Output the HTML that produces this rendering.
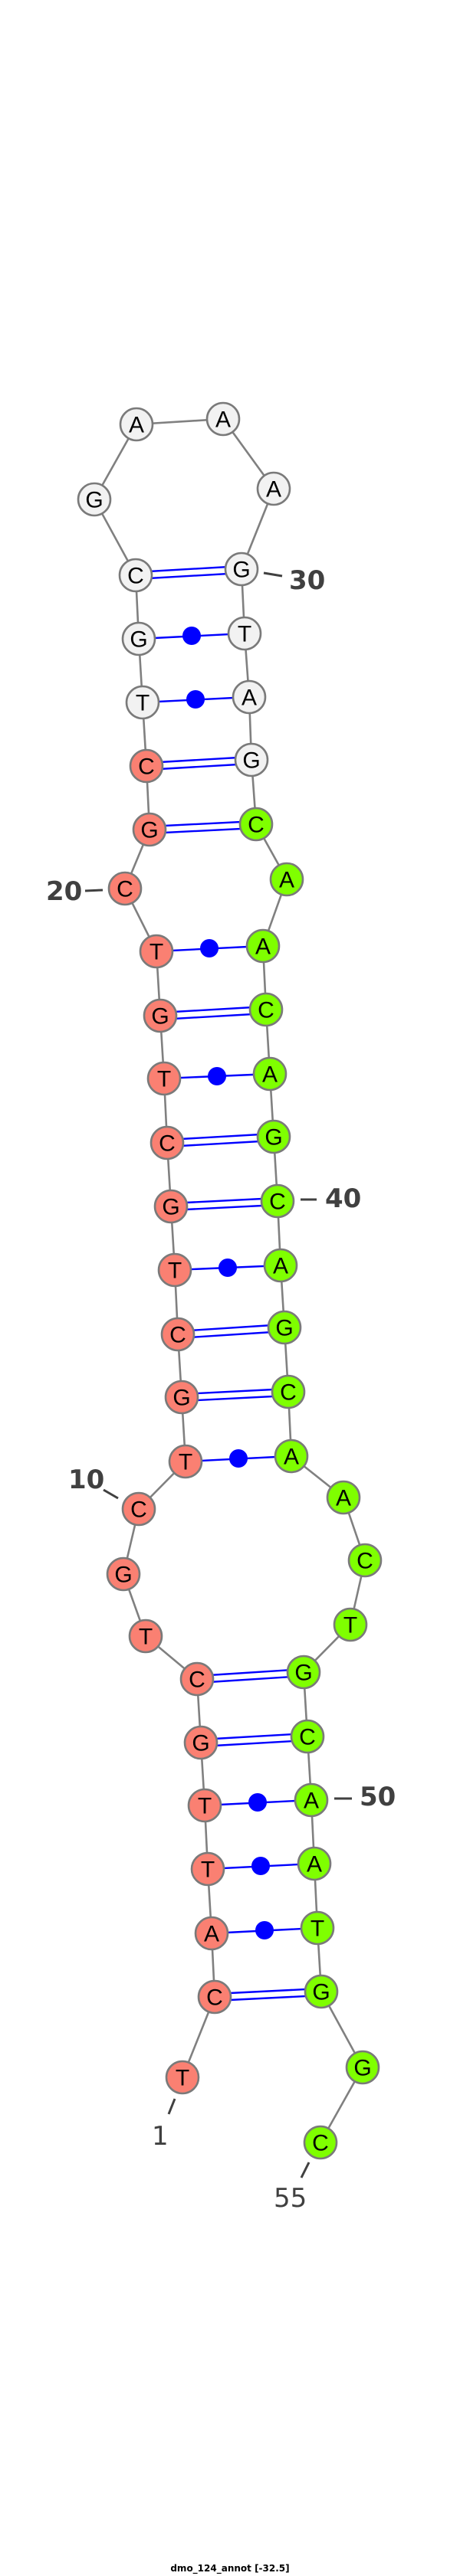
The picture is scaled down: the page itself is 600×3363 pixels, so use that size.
<!DOCTYPE html>
<html><head><meta charset="utf-8"><style>
html,body{margin:0;padding:0;background:#fff;width:600px;height:3363px;overflow:hidden}
svg{display:block}
.n{stroke:#7a7a7a;stroke-width:2.6}
.r{fill:#fa8072}.w{fill:#f2f2f2}.g{fill:#7fff00}
.t{font-family:"Liberation Sans",sans-serif;font-size:30px;text-anchor:middle;dominant-baseline:central;fill:#000}
.bb{stroke:#808080;stroke-width:2.6;fill:none}
.bp{stroke:#0000ff;stroke-width:2.4;fill:none}
.lb{font-family:"DejaVu Sans","Liberation Sans",sans-serif;font-size:34px;font-weight:bold;fill:#404040;dominant-baseline:central}
.ln{font-family:"DejaVu Sans","Liberation Sans",sans-serif;font-size:34px;fill:#404040;dominant-baseline:central}
.tk{stroke:#404040;stroke-width:3}
</style></head><body>
<svg width="600" height="3363" viewBox="0 0 600 3363" xmlns="http://www.w3.org/2000/svg">
<polyline class="bb" points="238,2712 280,2607 276,2524 271,2440 267,2357 262,2275 257,2192 190,2136 161,2055 181,1970 242,1908 237,1824 232,1742 228,1658 223,1575 218,1492 214,1408 209,1326 204,1242 163,1160 195,1083 191,1000 186,917 181,834 177,751 123,652 178,554 291,547 357,638 315,743 319,827 325,910 328,992 334,1076 374,1148 343,1235 347,1318 352,1402 357,1484 362,1568 366,1652 371,1733 376,1817 380,1901 448,1955 476,2037 457,2121 396,2183 401,2267 406,2350 410,2433 414,2517 419,2600 473,2699 418,2797"/>
<g class="bp">
<line x1="280" y1="2603" x2="419" y2="2596"/><line x1="280" y1="2612" x2="419" y2="2605"/>
<line x1="262" y1="2271" x2="401" y2="2263"/><line x1="262" y1="2280" x2="401" y2="2272"/>
<line x1="257" y1="2188" x2="396" y2="2179"/><line x1="257" y1="2197" x2="396" y2="2188"/>
<line x1="237" y1="1820" x2="376" y2="1813"/><line x1="237" y1="1829" x2="376" y2="1822"/>
<line x1="232" y1="1738" x2="371" y2="1729"/><line x1="232" y1="1747" x2="371" y2="1738"/>
<line x1="223" y1="1571" x2="362" y2="1564"/><line x1="223" y1="1580" x2="362" y2="1573"/>
<line x1="218" y1="1488" x2="357" y2="1480"/><line x1="218" y1="1497" x2="357" y2="1489"/>
<line x1="209" y1="1322" x2="347" y2="1314"/><line x1="209" y1="1331" x2="347" y2="1323"/>
<line x1="195" y1="1079" x2="334" y2="1072"/><line x1="195" y1="1088" x2="334" y2="1081"/>
<line x1="191" y1="996" x2="328" y2="988"/><line x1="191" y1="1005" x2="328" y2="997"/>
<line x1="177" y1="747" x2="315" y2="739"/><line x1="177" y1="756" x2="315" y2="748"/>
<line x1="276" y1="2524" x2="414" y2="2517"/>
<line x1="271" y1="2440" x2="410" y2="2433"/>
<line x1="267" y1="2357" x2="406" y2="2350"/>
<line x1="242" y1="1908" x2="380" y2="1901"/>
<line x1="228" y1="1658" x2="366" y2="1652"/>
<line x1="214" y1="1408" x2="352" y2="1402"/>
<line x1="204" y1="1242" x2="343" y2="1235"/>
<line x1="186" y1="917" x2="325" y2="910"/>
<line x1="181" y1="834" x2="319" y2="827"/>
</g>
<g fill="#0000ff">
<circle cx="345" cy="2520" r="12"/><circle cx="340" cy="2436" r="12"/><circle cx="336" cy="2353" r="12"/>
<circle cx="311" cy="1904" r="12"/><circle cx="297" cy="1655" r="12"/><circle cx="283" cy="1405" r="12"/>
<circle cx="273" cy="1238" r="12"/><circle cx="255" cy="913" r="12"/><circle cx="250" cy="830" r="12"/>
</g>
<g class="n">
<circle class="r" cx="238" cy="2712" r="21"/><circle class="r" cx="280" cy="2607" r="21"/><circle class="r" cx="276" cy="2524" r="21"/>
<circle class="r" cx="271" cy="2440" r="21"/><circle class="r" cx="267" cy="2357" r="21"/><circle class="r" cx="262" cy="2275" r="21"/>
<circle class="r" cx="257" cy="2192" r="21"/><circle class="r" cx="190" cy="2136" r="21"/><circle class="r" cx="161" cy="2055" r="21"/>
<circle class="r" cx="181" cy="1970" r="21"/><circle class="r" cx="242" cy="1908" r="21"/><circle class="r" cx="237" cy="1824" r="21"/>
<circle class="r" cx="232" cy="1742" r="21"/><circle class="r" cx="228" cy="1658" r="21"/><circle class="r" cx="223" cy="1575" r="21"/>
<circle class="r" cx="218" cy="1492" r="21"/><circle class="r" cx="214" cy="1408" r="21"/><circle class="r" cx="209" cy="1326" r="21"/>
<circle class="r" cx="204" cy="1242" r="21"/><circle class="r" cx="163" cy="1160" r="21"/><circle class="r" cx="195" cy="1083" r="21"/>
<circle class="r" cx="191" cy="1000" r="21"/>
<circle class="w" cx="186" cy="917" r="21"/><circle class="w" cx="181" cy="834" r="21"/><circle class="w" cx="177" cy="751" r="21"/>
<circle class="w" cx="123" cy="652" r="21"/><circle class="w" cx="178" cy="554" r="21"/><circle class="w" cx="291" cy="547" r="21"/>
<circle class="w" cx="357" cy="638" r="21"/><circle class="w" cx="315" cy="743" r="21"/><circle class="w" cx="319" cy="827" r="21"/>
<circle class="w" cx="325" cy="910" r="21"/><circle class="w" cx="328" cy="992" r="21"/>
<circle class="g" cx="334" cy="1076" r="21"/><circle class="g" cx="374" cy="1148" r="21"/><circle class="g" cx="343" cy="1235" r="21"/>
<circle class="g" cx="347" cy="1318" r="21"/><circle class="g" cx="352" cy="1402" r="21"/><circle class="g" cx="357" cy="1484" r="21"/>
<circle class="g" cx="362" cy="1568" r="21"/><circle class="g" cx="366" cy="1652" r="21"/><circle class="g" cx="371" cy="1733" r="21"/>
<circle class="g" cx="376" cy="1817" r="21"/><circle class="g" cx="380" cy="1901" r="21"/><circle class="g" cx="448" cy="1955" r="21"/>
<circle class="g" cx="476" cy="2037" r="21"/><circle class="g" cx="457" cy="2121" r="21"/><circle class="g" cx="396" cy="2183" r="21"/>
<circle class="g" cx="401" cy="2267" r="21"/><circle class="g" cx="406" cy="2350" r="21"/><circle class="g" cx="410" cy="2433" r="21"/>
<circle class="g" cx="414" cy="2517" r="21"/><circle class="g" cx="419" cy="2600" r="21"/><circle class="g" cx="473" cy="2699" r="21"/>
<circle class="g" cx="418" cy="2797" r="21"/>
</g>
<g class="t">
<text x="238" y="2713">T</text><text x="280" y="2608">C</text><text x="276" y="2525">A</text>
<text x="271" y="2441">T</text><text x="267" y="2358">T</text><text x="262" y="2276">G</text>
<text x="257" y="2193">C</text><text x="190" y="2137">T</text><text x="161" y="2056">G</text>
<text x="181" y="1971">C</text><text x="242" y="1909">T</text><text x="237" y="1825">G</text>
<text x="232" y="1743">C</text><text x="228" y="1659">T</text><text x="223" y="1576">G</text>
<text x="218" y="1493">C</text><text x="214" y="1409">T</text><text x="209" y="1327">G</text>
<text x="204" y="1243">T</text><text x="163" y="1161">C</text><text x="195" y="1084">G</text>
<text x="191" y="1001">C</text>
<text x="186" y="918">T</text><text x="181" y="835">G</text><text x="177" y="752">C</text>
<text x="123" y="653">G</text><text x="178" y="555">A</text><text x="291" y="548">A</text>
<text x="357" y="639">A</text><text x="315" y="744">G</text><text x="319" y="828">T</text>
<text x="325" y="911">A</text><text x="328" y="993">G</text>
<text x="334" y="1077">C</text><text x="374" y="1149">A</text><text x="343" y="1236">A</text>
<text x="347" y="1319">C</text><text x="352" y="1403">A</text><text x="357" y="1485">G</text>
<text x="362" y="1569">C</text><text x="366" y="1653">A</text><text x="371" y="1734">G</text>
<text x="376" y="1818">C</text><text x="380" y="1902">A</text><text x="448" y="1956">A</text>
<text x="476" y="2038">C</text><text x="457" y="2122">T</text><text x="396" y="2184">G</text>
<text x="401" y="2268">C</text><text x="406" y="2351">A</text><text x="410" y="2434">A</text>
<text x="414" y="2518">T</text><text x="419" y="2601">G</text><text x="473" y="2700">G</text>
<text x="418" y="2798">C</text>
</g>
<line class="tk" x1="344" y1="748" x2="368" y2="752"/><text class="lb" x="377" y="758">30</text>
<line class="tk" x1="111" y1="1163" x2="134" y2="1162"/><text class="lb" x="60" y="1164">20</text>
<line class="tk" x1="392" y1="1566" x2="413" y2="1566"/><text class="lb" x="424" y="1565">40</text>
<line class="tk" x1="135" y1="1945" x2="154" y2="1956"/><text class="lb" x="89" y="1932">10</text>
<line class="tk" x1="436" y1="2348" x2="459" y2="2348"/><text class="lb" x="469" y="2346">50</text>
<line class="tk" x1="228" y1="2740" x2="220" y2="2760"/><text class="ln" x="198" y="2789">1</text>
<line class="tk" x1="403" y1="2823" x2="393" y2="2843"/><text class="ln" x="357" y="2870">55</text>
<text x="300" y="3353" text-anchor="middle" dominant-baseline="central" style="font-family:'DejaVu Sans','Liberation Sans',sans-serif;font-size:12px;font-weight:bold;fill:#000">dmo_124_annot [-32.5]</text>
</svg>
</body></html>
